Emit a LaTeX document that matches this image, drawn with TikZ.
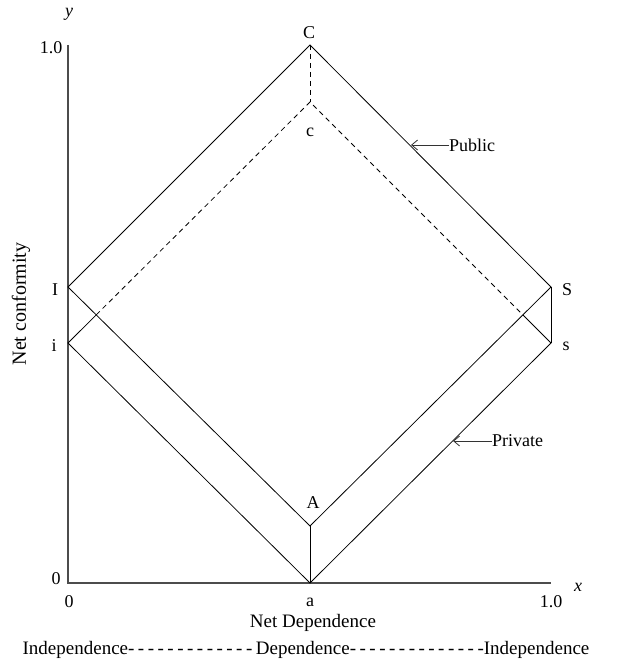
\documentclass[tikz,border=0pt]{standalone}
\usepackage{fontspec}
\setmainfont{Liberation Serif}
\usetikzlibrary{arrows.meta}
\begin{document}
\begin{tikzpicture}[x=1pt,y=-1pt,
  lbl/.style={inner sep=0pt,font=\fontsize{18}{20}\selectfont},
  ln/.style={line width=0.8pt,black},
  ax/.style={line width=1.3pt,black!70},
  dsh/.style={line width=0.8pt,black,dash pattern=on 5pt off 4pt},
  pointer/.style={line width=0.8pt,black!80,-{Straight Barb[length=6pt,width=10pt]}}]
\useasboundingbox (0,0) rectangle (617,663);
% points
\coordinate (C) at (310,45);
\coordinate (c) at (310,102);
\coordinate (I) at (68,287);
\coordinate (i) at (68,343);
\coordinate (S) at (551,287);
\coordinate (s) at (551,343);
\coordinate (A) at (310,526);
\coordinate (a) at (310,583);
\coordinate (O) at (68,583);
\coordinate (Ytop) at (68,45);
\coordinate (Xend) at (551,583);
\coordinate (XL) at (intersection of i--c and I--A);
\coordinate (XR) at (intersection of c--s and A--S);
% axes
\draw[ax] (Ytop) -- (O) -- (Xend);
% public diamond
\draw[ln] (I) -- (C) -- (S) -- (A) -- cycle;
% private diamond
\draw[ln] (XL) -- (i) -- (a) -- (s) -- (XR);
\draw[dsh] (XL) -- (c) -- (XR);
% verticals
\draw[dsh] (C) -- (c);
\draw[ln] (S) -- (s);
\draw[ln] (A) -- (a);
% labels
\node[lbl] (lC) at (309,33) {C};
\node[lbl] (lc) at (310,132) {c};
\node[lbl] (lI) at (55,290) {I};
\node[lbl] (li) at (54,346) {i};
\node[lbl] (lS) at (567,290) {S};
\node[lbl] (ls) at (566,346) {s};
\node[lbl] (lA) at (313,503) {A};
\node[lbl] (la) at (310,602) {a};
\node[lbl] (l0x) at (69,602) {0};
\node[lbl] (l1x) at (551,602) {1.0};
\node[lbl] (l0y) at (56,579) {0};
\node[lbl] (l1y) at (51,48) {1.0};
\node[lbl] (ly) at (69,14) {\itshape y};
\node[lbl] (lx) at (578,587) {\itshape x};
\node[lbl,anchor=west] (pub) at (449,145) {Public};
\node[lbl,anchor=west] (priv) at (492,441) {Private};
\coordinate (pubtip) at (411,145);
\coordinate (privtip) at (453,441);
\draw[pointer] (pub.west) -- (pubtip);
\draw[pointer] (priv.west) -- (privtip);
\node[lbl,rotate=90,font=\fontsize{20}{22}\selectfont] (ylab) at (21,304) {Net conformity};
\node[lbl,font=\fontsize{19}{21}\selectfont] (xlab) at (313,623) {Net Dependence};
\node[lbl,font=\fontsize{19}{21}\selectfont] (scale) at (306,650) {\spaceskip=3.5pt\relax Independence- - - - - - - - - - - - - Dependence- - - - - - - - - - - - - -Independence};
\end{tikzpicture}
\end{document}
